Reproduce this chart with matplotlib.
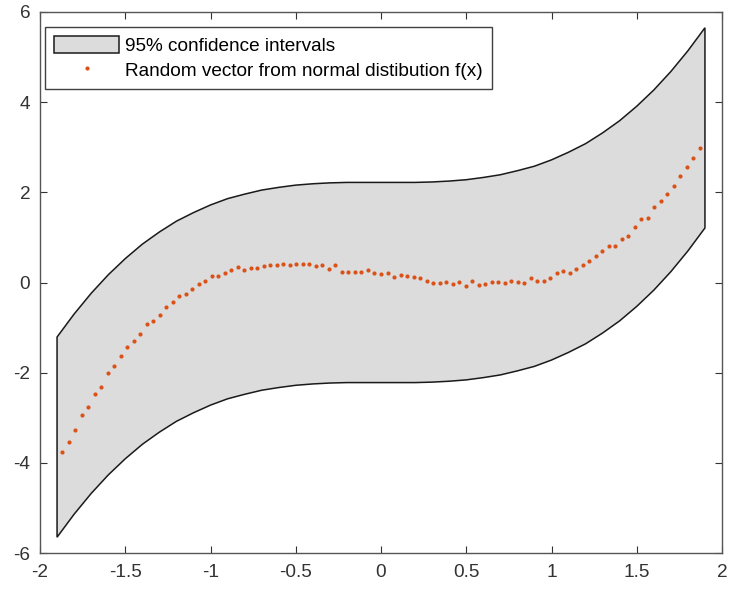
import matplotlib
matplotlib.use("Agg")
import matplotlib.pyplot as plt
import numpy as np

band_x = np.linspace(-1.9, 1.9, 39)
band_upper = [-1.21, -0.70, -0.24, 0.17, 0.53, 0.85, 1.12, 1.36, 1.55, 1.72,
              1.86, 1.96, 2.05, 2.11, 2.16, 2.19, 2.21, 2.22, 2.22, 2.22,
              2.22, 2.22, 2.23, 2.25, 2.28, 2.33, 2.39, 2.48, 2.58, 2.72,
              2.89, 3.08, 3.32, 3.59, 3.91, 4.27, 4.68, 5.14, 5.65]
band_lower = [-5.65, -5.14, -4.68, -4.27, -3.91, -3.59, -3.32, -3.08, -2.89, -2.72,
              -2.58, -2.48, -2.39, -2.33, -2.28, -2.25, -2.23, -2.22, -2.22, -2.22,
              -2.22, -2.22, -2.21, -2.19, -2.16, -2.11, -2.05, -1.96, -1.86, -1.72,
              -1.55, -1.36, -1.12, -0.85, -0.53, -0.17, 0.24, 0.70, 1.21]

# sampled points (evenly spaced in x)
sample_x = np.linspace(-1.87, 1.87, 99)
sample_y = [-3.75, -3.54, -3.27, -2.95, -2.77, -2.47, -2.32, -2.00, -1.85, -1.63,
            -1.44, -1.29, -1.15, -0.92, -0.85, -0.72, -0.54, -0.43, -0.31, -0.25,
            -0.14, -0.04, 0.03, 0.14, 0.15, 0.20, 0.28, 0.34, 0.28, 0.33,
            0.33, 0.36, 0.39, 0.39, 0.41, 0.39, 0.40, 0.41, 0.42, 0.36,
            0.39, 0.30, 0.39, 0.24, 0.24, 0.24, 0.24, 0.27, 0.22, 0.18,
            0.21, 0.13, 0.17, 0.14, 0.12, 0.09, 0.03, 0.00, 0.00, 0.02,
            -0.04, 0.02, -0.07, 0.03, -0.06, -0.03, 0.02, 0.01, -0.01, 0.04,
            0.01, 0.00, 0.11, 0.03, 0.03, 0.11, 0.21, 0.25, 0.21, 0.30,
            0.39, 0.48, 0.59, 0.70, 0.80, 0.81, 0.97, 1.03, 1.24, 1.41,
            1.44, 1.67, 1.81, 1.96, 2.13, 2.37, 2.56, 2.77, 2.99]

xticks = [-2, -1.5, -1, -0.5, 0, 0.5, 1, 1.5, 2]
yticks = [-6, -4, -2, 0, 2, 4, 6]
labels = ["95% confidence intervals", "Random vector from normal distibution f(x)"]

plt.rcParams['font.family'] = ['Liberation Sans', 'DejaVu Sans']
plt.rcParams['axes.unicode_minus'] = False

fig = plt.figure(figsize=(7.3, 5.9), dpi=100)
ax = fig.add_axes([40 / 730, 1 - 553 / 590, 682 / 730, 541 / 590])

# closed polygon: upper edge left->right, lower edge right->left
poly_x = np.concatenate([band_x, band_x[::-1]])
poly_y = np.concatenate([band_upper, band_lower[::-1]])
ax.fill(poly_x, poly_y, facecolor='#dcdcdc', edgecolor='#1a1a1a', lw=1.1, label=labels[0])
ax.plot(sample_x, sample_y, 'o', ms=3.0, color='#d95319', mec='none', label=labels[1])

ax.set_xlim(-2, 2)
ax.set_ylim(-6, 6)
ax.set_xticks(xticks)
ax.set_yticks(yticks)
ax.set_xticklabels(['%g' % t for t in xticks])
ax.set_yticklabels(['%g' % t for t in yticks])
ax.tick_params(direction='in', length=5, width=0.8, top=True, right=True,
               labelsize=13.7, colors='#333333')
ax.tick_params(axis='x', pad=8)
ax.tick_params(axis='y', pad=7)
for s in ax.spines.values():
    s.set_color('#555555')
    s.set_linewidth(1.0)

leg = ax.legend(loc='upper left', bbox_to_anchor=(0.0073, 0.973), borderaxespad=0,
                fontsize=13.7, handlelength=3.4, handleheight=1.0, handletextpad=0.28,
                borderpad=0.5, labelspacing=0.3, fancybox=False, framealpha=1,
                edgecolor='#404040', numpoints=1)
leg.get_frame().set_linewidth(1.0)

fig.savefig('out.png', dpi=100)
